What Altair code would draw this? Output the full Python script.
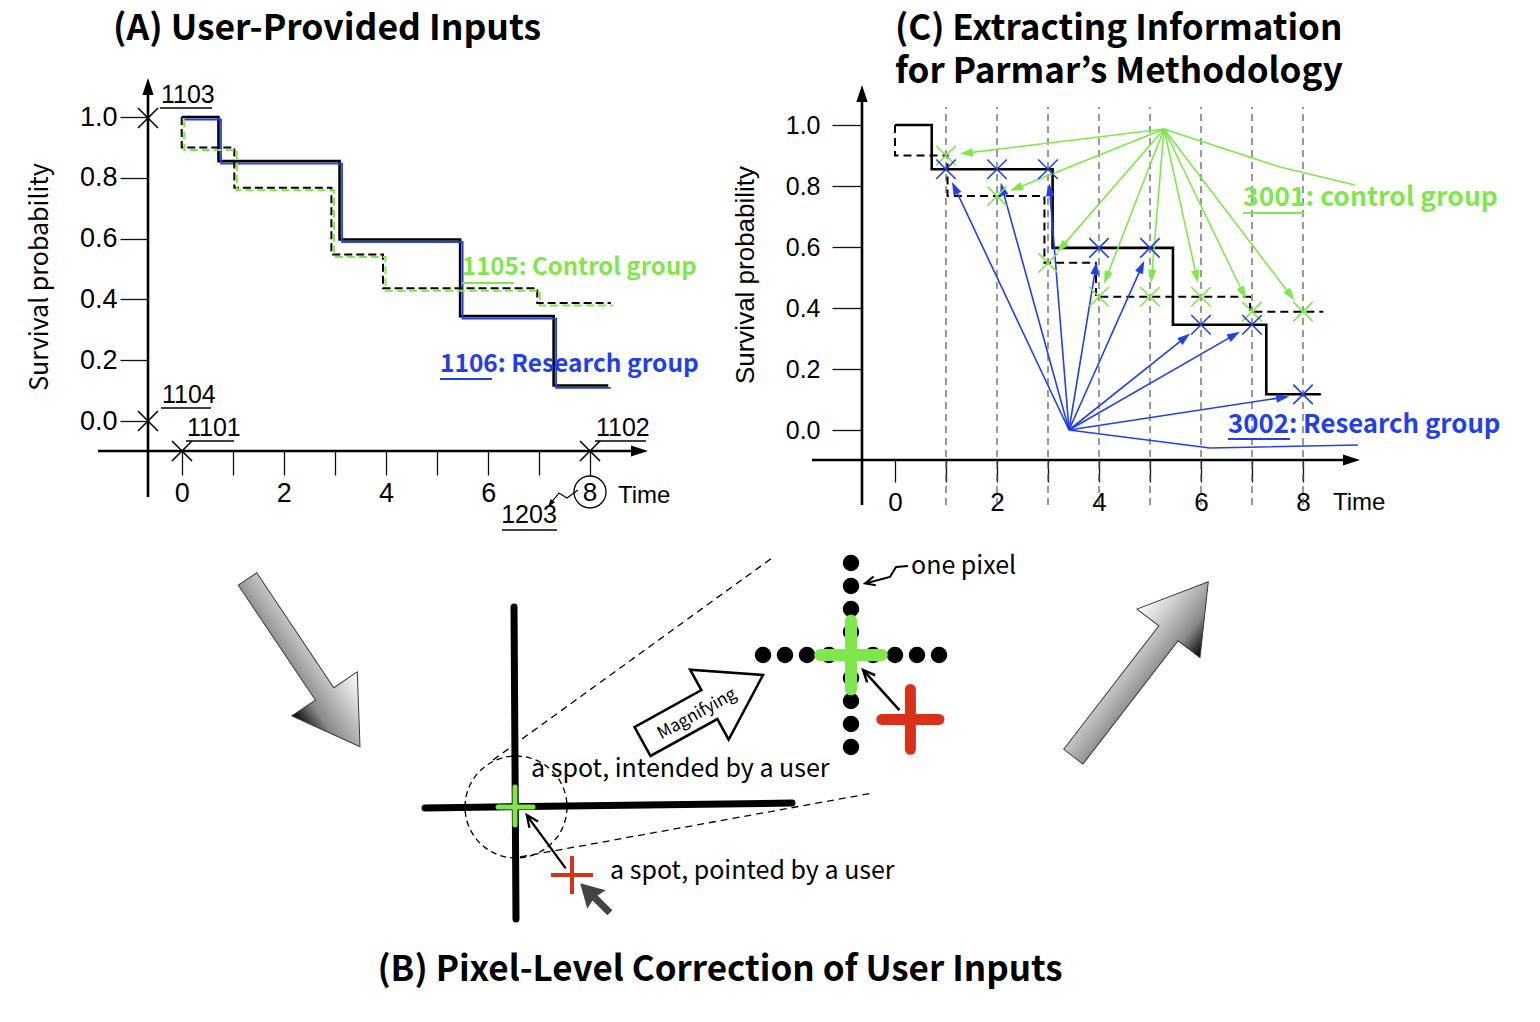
import math
import altair as alt
import pandas as pd

# ------------------------------------------------------------------ values
time_ticks = [0, 1, 2, 3, 4, 5, 6, 7, 8]
surv_ticks = [0.0, 0.2, 0.4, 0.6, 0.8, 1.0]

research_time = [0.0, 0.72, 3.09, 5.45, 7.28, 8.35]
research_surv = [1.0, 0.855, 0.597, 0.345, 0.117, 0.117]
control_time = [0.0, 0.0, 1.03, 2.93, 3.94, 6.96, 8.40]
control_surv = [1.0, 0.90, 0.767, 0.548, 0.437, 0.388, 0.388]

grid_time = [1, 2, 3, 4, 5, 6, 7, 8]
research_at_grid = [0.855, 0.855, 0.855, 0.597, 0.597, 0.345, 0.345, 0.117]
control_at_grid = [0.90, 0.767, 0.548, 0.437, 0.437, 0.437, 0.388, 0.388]

pixel_offsets = [-4, -3, -2, -1, 0, 1, 2, 3, 4]

title_a = "(A) User-Provided Inputs"
title_b = "(B) Pixel-Level Correction of User Inputs"
title_c = ["(C) Extracting Information", "for Parmar\u2019s Methodology"]
y_title = "Survival probability"
x_title = "Time"
label_control_a = "1105: Control group"
label_research_a = "1106: Research group"
label_control_c = "3001: control group"
label_research_c = "3002: Research group"
ref_numbers_a = ["1103", "1104", "1101", "1102"]
ref_number_zoom = "1203"
spot_texts = ["a spot, intended by a user", "a spot, pointed by a user", "one pixel", "Magnifying"]

# ------------------------------------------------------------------ layout / style
W, H = 1524, 1000
M = 8
GREEN = "#7fe64b"
BLUE = "#2140e6"
RED = "#d9301a"
F_KR = "Noto Sans CJK KR"
F_HELV = "Liberation Sans, Arial, sans-serif"
F_NARROW = "Liberation Sans Narrow, Liberation Sans, sans-serif"


def sc(domain, p0, p1):
    return alt.Scale(domain=list(domain), range=[p0 - M, p1 - M], nice=False, zero=False)


CX = sc([M, M + W], M, M + W)
CY = sc([M, M + H], M, M + H)

A_T0, A_T8, A_S0, A_S1 = 181.7, 590.4, 421.0, 117.0
AX, AY = sc([0, 8], A_T0, A_T8), sc([0, 1], A_S0, A_S1)
AXs, AYs = sc([0, 8], A_T0 + 2.5, A_T8 + 2.5), sc([0, 1], A_S0 + 2.5, A_S1 + 2.5)

C_T0, C_T8, C_S0, C_S1 = 895.0, 1303.0, 430.0, 125.0
CXs, CYs = sc([0, 8], C_T0, C_T8), sc([0, 1], C_S0, C_S1)

MXs, MYs = sc([-4, 4], 763, 939), sc([-4, 4], 747, 563)


def cpx(t):
    return C_T0 + (C_T8 - C_T0) * t / 8


def cpy(s):
    return C_S0 + (C_S1 - C_S0) * s


def mpx(u):
    return 851 + 22 * u


def mpy(v):
    return 655 - 23 * v


def up_angle(dx, dy):
    return math.degrees(math.atan2(dx, -dy)) % 360


HEAD = "M0,0L0.33,1L-0.33,1Z"
VHEAD = "M-0.45,1L0,0L0.45,1"
XMARK = "M-1,-1L1,1M-1,1L1,-1"

layers = []


def enc(ch, xs, ys, x="x", y="y", x2=None, y2=None, xaxis=None, yaxis=None, **kw):
    e = dict(x=alt.X(f"{x}:Q", scale=xs, axis=xaxis), y=alt.Y(f"{y}:Q", scale=ys, axis=yaxis))
    if x2:
        e["x2"] = alt.X2(f"{x2}:Q")
    if y2:
        e["y2"] = alt.Y2(f"{y2}:Q")
    e.update(kw)
    layers.append(ch.encode(**e))


def segments(rows, xs=CX, ys=CY, **mk):
    df = pd.DataFrame(rows, columns=["x", "y", "x2", "y2"])
    enc(alt.Chart(df).mark_rule(**mk), xs, ys, x2="x2", y2="y2")


def polyline(pts, xs=CX, ys=CY, **mk):
    df = pd.DataFrame([(i, p[0], p[1]) for i, p in enumerate(pts)], columns=["i", "x", "y"])
    enc(alt.Chart(df).mark_line(**mk), xs, ys, order=alt.Order("i:Q"))


def symbols(pts, shape, size, xs=CX, ys=CY, angles=None, **mk):
    df = pd.DataFrame(pts, columns=["x", "y"])
    mk.setdefault("opacity", 1)
    if angles is not None:
        df["a"] = angles
        enc(alt.Chart(df).mark_point(shape=shape, size=size, **mk), xs, ys,
            angle=alt.Angle("a:Q", scale=None))
    else:
        enc(alt.Chart(df).mark_point(shape=shape, size=size, **mk), xs, ys)


def texts(items, xs=CX, ys=CY, **mk):
    df = pd.DataFrame(items, columns=["x", "y", "t"])
    enc(alt.Chart(df).mark_text(**mk), xs, ys, text=alt.Text("t:N"))


def km(ts, ss):
    return pd.DataFrame({"i": list(range(len(ts))), "t": ts, "s": ss})


def axis(orient, offset, values, size, font, fsize, pad, expr=None, fmt=".1f"):
    kw = dict(orient=orient, offset=offset, values=values, format=fmt, tickSize=size,
              tickWidth=1.3, tickColor="#111", domain=False, grid=False, labelFont=font,
              labelFontSize=fsize, labelColor="black", labelPadding=pad, labelFlush=False,
              labelOverlap=False, title=None)
    if expr:
        kw["labelExpr"] = expr
    return alt.Axis(**kw)


# ================================================================ panel A
enc(alt.Chart(km(research_time, research_surv)).mark_line(
        interpolate="step-after", color="black", strokeWidth=2.6),
    AX, AY, x="t", y="s", order=alt.Order("i:Q"),
    xaxis=axis("bottom", (451 - M) - H, time_ticks, 24, F_HELV, 27, 5,
               "datum.value % 2 == 0 && datum.value < 8 ? datum.label : ''", "d"),
    yaxis=axis("left", -(148 - M), surv_ticks, 28, F_HELV, 27, 3))
enc(alt.Chart(km(research_time, research_surv)).mark_line(
        interpolate="step-after", color=BLUE, strokeWidth=1.8),
    AXs, AYs, x="t", y="s", order=alt.Order("i:Q"))
enc(alt.Chart(km(control_time, control_surv)).mark_line(
        interpolate="step-after", color="black", strokeWidth=2, strokeDash=[8, 4]),
    AX, AY, x="t", y="s", order=alt.Order("i:Q"))
enc(alt.Chart(km(control_time, control_surv)).mark_line(
        interpolate="step-after", color=GREEN, strokeWidth=2, strokeDash=[8, 4]),
    AXs, AYs, x="t", y="s", order=alt.Order("i:Q"))

segments([(148, 497, 148, 90), (98, 451, 636, 451)], color="black", strokeWidth=2.6)
symbols([(148, 78), (648, 451)], HEAD, 4 * 17 ** 2, angles=[0, 90], filled=True, color="black")
symbols([(148, 118), (148, 421), (182, 451), (590, 451)], XMARK, 400,
        filled=False, color="black", strokeWidth=1.6)
texts([(161, 95, ref_numbers_a[0]), (162, 395, ref_numbers_a[1]),
       (187, 428, ref_numbers_a[2]), (596, 428, ref_numbers_a[3])],
      align="left", baseline="middle", font=F_NARROW, fontSize=25, color="black")
texts([(529, 515, ref_number_zoom)], align="center", baseline="middle", font=F_NARROW,
      fontSize=25, color="black")
segments([(160, 108, 212, 108), (161, 408, 211, 408), (186, 441, 234, 441),
          (595, 441, 646, 441), (502, 530, 557, 530)], color="black", strokeWidth=1.5)
symbols([(590, 492)], "circle", 32 ** 2, filled=False, color="black", strokeWidth=1.3)
texts([(590, 493, "8")], align="center", baseline="middle", font=F_HELV, fontSize=26, color="black")
texts([(618, 496, x_title)], align="left", baseline="middle", font=F_HELV, fontSize=24, color="black")
polyline([(578, 490), (567, 498), (559, 493), (551, 503)], color="black", strokeWidth=1.2)
symbols([(548, 507)], HEAD, 4 * 8 ** 2, angles=[up_angle(-3, 4)], filled=True, color="black")
texts([(40, 277, y_title)], align="center", baseline="middle", angle=270, font=F_KR,
      fontSize=25, color="black")
texts([(462, 268, label_control_a)], align="left", baseline="middle", font=F_KR,
      fontSize=24, fontWeight="bold", color=GREEN)
texts([(440, 365, label_research_a)], align="left", baseline="middle", font=F_KR,
      fontSize=24.5, fontWeight="bold", color=BLUE)
segments([(462, 283, 514, 283)], color=GREEN, strokeWidth=2)
segments([(440, 379, 492, 379)], color=BLUE, strokeWidth=2)
texts([(113, 40, title_a)], align="left", baseline="alphabetic", font=F_KR, fontSize=35.5,
      fontWeight="bold", color="black")

# ================================================================ panel C
enc(alt.Chart(pd.DataFrame({"t": grid_time, "s0": [-0.246] * 8, "s1": [1.059] * 8})).mark_rule(
        color="#555", strokeWidth=1.2, strokeDash=[7, 5]),
    CXs, CYs, x="t", y="s0", y2="s1")
enc(alt.Chart(km(research_time, research_surv)).mark_line(
        interpolate="step-after", color="black", strokeWidth=2.6),
    CXs, CYs, x="t", y="s", order=alt.Order("i:Q"),
    xaxis=axis("bottom", (460 - M) - H, time_ticks, 22, F_HELV, 26, 7,
               "datum.value % 2 == 0 ? datum.label : ''", "d"),
    yaxis=axis("left", -(862 - M), surv_ticks, 30, F_HELV, 25, 12))
enc(alt.Chart(km(control_time, control_surv)).mark_line(
        interpolate="step-after", color="black", strokeWidth=2, strokeDash=[8, 5]),
    CXs, CYs, x="t", y="s", order=alt.Order("i:Q"))
segments([(862, 505, 862, 97), (812, 460, 1348, 460)], color="black", strokeWidth=2.6)
symbols([(862, 85), (1360, 460)], HEAD, 4 * 17 ** 2, angles=[0, 90], filled=True, color="black")


def fan(hub, ts, ss, gap=14, head=13):
    rules, tips, angs = [], [], []
    for t, s in zip(ts, ss):
        mx, my = cpx(t), cpy(s)
        dx, dy = mx - hub[0], my - hub[1]
        L = math.hypot(dx, dy)
        ux, uy = dx / L, dy / L
        tx, ty = mx - ux * gap, my - uy * gap
        rules.append((hub[0], hub[1], tx - ux * head * 0.6, ty - uy * head * 0.6))
        tips.append((tx, ty))
        angs.append(up_angle(ux, uy))
    return rules, tips, angs


G_HUB, B_HUB = (1164, 129), (1069, 430)
r, tp, an = fan(G_HUB, grid_time, control_at_grid)
segments(r, color=GREEN, strokeWidth=1.6)
symbols(tp, HEAD, 4 * 13 ** 2, angles=an, filled=True, color=GREEN)
r, tp, an = fan(B_HUB, grid_time, research_at_grid)
segments(r, color=BLUE, strokeWidth=1.6)
symbols(tp, HEAD, 4 * 13 ** 2, angles=an, filled=True, color=BLUE)

enc(alt.Chart(pd.DataFrame({"t": grid_time, "s": control_at_grid})).mark_point(
        shape=XMARK, size=380, filled=False, color=GREEN, strokeWidth=1.6, opacity=1),
    CXs, CYs, x="t", y="s")
enc(alt.Chart(pd.DataFrame({"t": grid_time, "s": research_at_grid})).mark_point(
        shape=XMARK, size=380, filled=False, color=BLUE, strokeWidth=1.6, opacity=1),
    CXs, CYs, x="t", y="s")

polyline([G_HUB, (1280, 167), (1355, 185)], color=GREEN, strokeWidth=1.6)
polyline([B_HUB, (1210, 448), (1358, 445)], color=BLUE, strokeWidth=1.6)
texts([(1243, 198, label_control_c)], align="left", baseline="middle", font=F_KR,
      fontSize=26.5, fontWeight="bold", color=GREEN)
texts([(1228, 425, label_research_c)], align="left", baseline="middle", font=F_KR,
      fontSize=25.8, fontWeight="bold", color=BLUE)
segments([(1243, 213, 1304, 213)], color=GREEN, strokeWidth=2)
segments([(1228, 439, 1290, 439)], color=BLUE, strokeWidth=2)
texts([(746, 275, y_title)], align="center", baseline="middle", angle=270, font=F_HELV,
      fontSize=26, color="black")
texts([(1333, 503, x_title)], align="left", baseline="middle", font=F_HELV, fontSize=24,
      color="black")
texts([(895, 40, title_c[0]), (895, 83, title_c[1])], align="left", baseline="alphabetic",
      font=F_KR, fontSize=35, fontWeight="bold", color="black")

# ================================================================ panel B
grad = alt.LinearGradient(gradient="linear", x1=0, x2=0, y1=0, y2=1, stops=[
    alt.GradientStop(color="#ffffff", offset=0), alt.GradientStop(color="#cfcfcf", offset=0.3),
    alt.GradientStop(color="#8a8a8a", offset=0.7), alt.GradientStop(color="#000000", offset=1)])


def block_arrow(tail, tip, path, fill, stroke, sw):
    dx, dy = tip[0] - tail[0], tip[1] - tail[1]
    L = math.hypot(dx, dy)
    c = ((tail[0] + tip[0]) / 2, (tail[1] + tip[1]) / 2)
    ang = math.degrees(math.atan2(dy, dx)) % 360
    symbols([c], path, L * L, filled=True, fill=fill, stroke=stroke, strokeWidth=sw,
            angle=ang)
    return c, ang


block_arrow((247.5, 579), (360, 746.7),
            "M-1,-0.11L0.37,-0.11L0.37,-0.39L1,0L0.37,0.39L0.37,0.11L-1,0.11Z",
            grad, "#3a3a3a", 1)
block_arrow((1073.3, 756.7), (1208.3, 581.7),
            "M-1,-0.11L0.41,-0.11L0.41,-0.36L1,0L0.41,0.36L0.41,0.11L-1,0.11Z",
            grad, "#3a3a3a", 1)

segments([(514, 607, 516, 919), (425, 808, 792, 803)], color="black", strokeWidth=7,
         strokeCap="round")
symbols([(516, 807)], "circle", 102 ** 2, filled=False, color="black", strokeWidth=1.3,
        strokeDash=[6, 4])
segments([(493, 760, 772, 558), (520, 857, 873, 793)], color="black", strokeWidth=1.3,
         strokeDash=[7, 5])
segments([(498, 807, 533, 807), (515, 787, 515, 825)], color=GREEN, strokeWidth=5,
         strokeCap="round")
segments([(551, 875, 593, 875), (572, 856, 572, 894)], color=RED, strokeWidth=4)
segments([(565.7, 868.3, 528, 817)], color="black", strokeWidth=2.2)
symbols([(526.7, 815)], VHEAD, 4 * 12 ** 2, angles=[up_angle(-39, -53.3)], filled=False,
        color="black", strokeWidth=2.2)
symbols([(595, 898)], "M0,-1L0.62,0.1L0.17,0L0.17,1L-0.17,1L-0.17,0L-0.62,0.1Z", 4 * 21 ** 2,
        filled=True, color="#444444", angle=315)
texts([(531, 769, spot_texts[0]), (610, 871, spot_texts[1])], align="left",
      baseline="middle", font=F_KR, fontSize=25, color="black")

c, ang = block_arrow((642.5, 741.5), (763, 675),
                     "M-1,-0.24L0.11,-0.24L0.11,-0.58L1,0L0.11,0.58L0.11,0.24L-1,0.24Z",
                     "white", "black", 2.5)
texts([(697, 714, spot_texts[3])], align="center", baseline="middle", angle=331,
      font=F_KR, fontSize=17, color="black")

# magnified pixel grid
dots = [(u, 0) for u in pixel_offsets] + [(0, v) for v in pixel_offsets if v != 0]
enc(alt.Chart(pd.DataFrame(dots, columns=["x", "y"])).mark_circle(
        size=16.5 ** 2, color="black", opacity=1), MXs, MYs)
segments([(-1.4, 0, 1.4, 0), (0, -1.5, 0, 1.5)], MXs, MYs, color=GREEN, strokeWidth=12,
         strokeCap="round")
segments([(1.4, -2.8, 4.0, -2.8), (2.7, -4.1, 2.7, -1.5)], MXs, MYs, color=RED,
         strokeWidth=11, strokeCap="round")
segments([(2.2, -2.4, 0.62, -0.72)], MXs, MYs, color="black", strokeWidth=2.5)
symbols([(mpx(0.55), mpy(-0.65))], VHEAD, 4 * 12 ** 2,
        angles=[up_angle(mpx(0.55) - mpx(2.2), mpy(-0.65) - mpy(-2.4))],
        filled=False, color="black", strokeWidth=2.5)
polyline([(908, 566), (896, 567), (890, 577), (867, 583)], color="black", strokeWidth=2)
symbols([(865, 583.5)], VHEAD, 4 * 10 ** 2, angles=[up_angle(-23, 6)], filled=False,
        color="black", strokeWidth=2)
texts([(911, 566, spot_texts[2])], align="left", baseline="middle", font=F_KR,
      fontSize=25, color="black")

texts([(720, 981, title_b)], align="center", baseline="alphabetic", font=F_KR, fontSize=35,
      fontWeight="bold", color="black")

chart = alt.layer(*layers).resolve_scale(x="independent", y="independent").properties(
    width=W, height=H, padding=0, autosize=alt.AutoSizeParams(type="none"),
    background="white").configure_view(stroke=None)
chart.save("out.html", embed_options={"renderer": "svg", "actions": False})
